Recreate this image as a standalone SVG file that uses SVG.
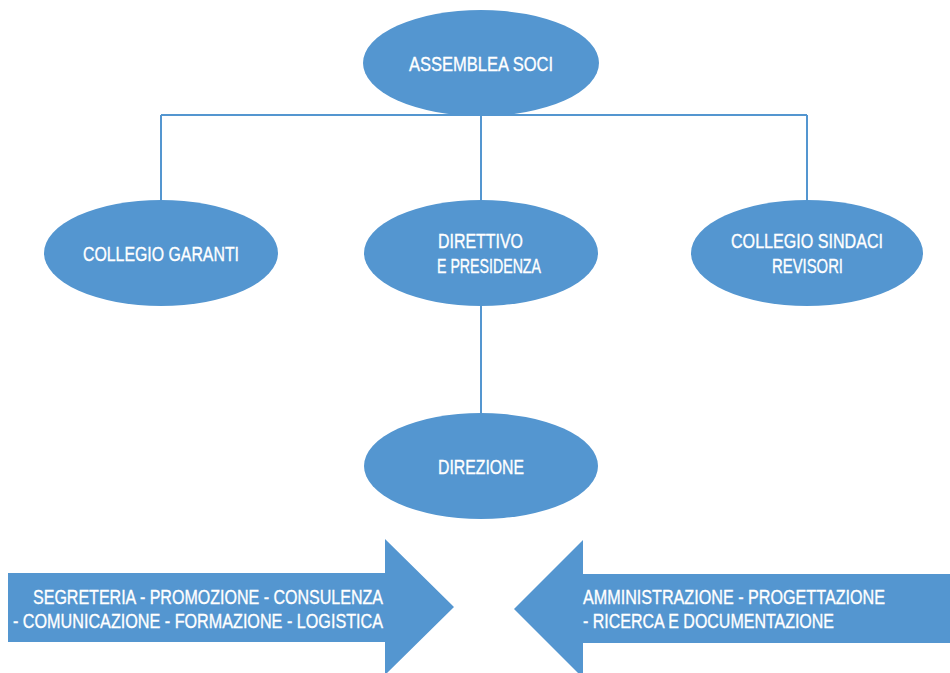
<svg xmlns="http://www.w3.org/2000/svg" width="950" height="673" viewBox="0 0 950 673">
<style>
.n{fill:#5496d0}
.t{fill:#fff;stroke:#fff;stroke-width:0.35;font-family:"Liberation Sans Narrow","Liberation Sans",Arial,sans-serif;font-size:21px;font-stretch:condensed}
.c{stroke:#5496d0;stroke-width:2;fill:none}
</style>
<rect width="950" height="673" fill="#fff"/>
<g id="connectors">
<path class="c" d="M161 115H807M161 115V202M481 115V202M807 115V202M481 305V414"/>
</g>
<g id="assemblea">
<ellipse class="n" cx="481" cy="63" rx="118" ry="53"/>
<text class="t" x="409" y="71" textLength="144" lengthAdjust="spacingAndGlyphs">ASSEMBLEA SOCI</text>
</g>
<g id="garanti">
<ellipse class="n" cx="161" cy="253" rx="117" ry="53"/>
<text class="t" x="83" y="261" textLength="156" lengthAdjust="spacingAndGlyphs">COLLEGIO GARANTI</text>
</g>
<g id="direttivo">
<ellipse class="n" cx="481" cy="253" rx="117" ry="53"/>
<text class="t" x="438" y="248" textLength="85" lengthAdjust="spacingAndGlyphs">DIRETTIVO</text>
<text class="t" x="437" y="273" textLength="104" lengthAdjust="spacingAndGlyphs">E PRESIDENZA</text>
</g>
<g id="sindaci">
<ellipse class="n" cx="807" cy="253" rx="116" ry="53"/>
<text class="t" x="731" y="248" textLength="152" lengthAdjust="spacingAndGlyphs">COLLEGIO SINDACI</text>
<text class="t" x="772" y="273" textLength="71" lengthAdjust="spacingAndGlyphs">REVISORI</text>
</g>
<g id="direzione">
<ellipse class="n" cx="481" cy="466" rx="117" ry="53"/>
<text class="t" x="438" y="474" textLength="86" lengthAdjust="spacingAndGlyphs">DIREZIONE</text>
</g>
<g id="arrow-left-services">
<polygon class="n" points="8,573 385,573 385,539 454,607 385,675 385,642 8,642"/>
<text class="t" x="33" y="604" textLength="350" lengthAdjust="spacingAndGlyphs">SEGRETERIA - PROMOZIONE - CONSULENZA</text>
<text class="t" x="13" y="628" textLength="370" lengthAdjust="spacingAndGlyphs">- COMUNICAZIONE - FORMAZIONE - LOGISTICA</text>
</g>
<g id="arrow-right-services">
<polygon class="n" points="950,574 583,574 583,540 514,609 583,678 583,643 950,643"/>
<text class="t" x="583" y="604" textLength="302" lengthAdjust="spacingAndGlyphs">AMMINISTRAZIONE - PROGETTAZIONE</text>
<text class="t" x="583" y="628" textLength="251" lengthAdjust="spacingAndGlyphs">- RICERCA E DOCUMENTAZIONE</text>
</g>
</svg>
